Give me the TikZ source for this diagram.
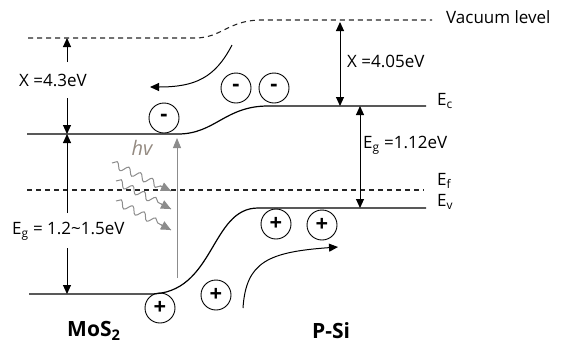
\documentclass[tikz,border=0pt]{standalone}
\usepackage{fontspec}
\setmainfont{Open Sans}
\usetikzlibrary{arrows.meta,decorations.pathmorphing,calc}
\definecolor{lightray}{gray}{0.55}
\tikzset{
  level/.style={line width=1.2pt},
  dashlevel/.style={line width=1.1pt, dash pattern=on 5pt off 4pt, black!85},
  arr/.style={line width=1pt, -{Triangle[length=9pt,width=8pt]}},
  darr/.style={line width=1pt, {Triangle[length=9pt,width=8pt]}-{Triangle[length=9pt,width=8pt]}},
  lbl/.style={font=\fontsize{17}{19}\selectfont, inner sep=0pt},
  big/.style={font=\fontsize{21}{24}\selectfont\bfseries, inner sep=0pt},
  carrier/.style={circle, draw, line width=0.9pt, minimum size=30pt, inner sep=0pt, font=\fontsize{22}{22}\selectfont\bfseries},
  photon/.style={lightray, line width=1pt, decorate,
    decoration={snake, amplitude=3.5pt, segment length=13pt, post length=10pt}},
  phtip/.style={lightray, -{Triangle[length=10pt,width=9pt]}, line width=1pt},
}
\begin{document}
\begin{tikzpicture}[x=1pt,y=-1pt]
\useasboundingbox (0,0) rectangle (561,346);

% ---- level coordinates ----
\coordinate (vacL0) at (28,38);
\coordinate (vacR1) at (432,20);
\coordinate (ecL0) at (27,134);
\coordinate (ecR1) at (426,106);
\coordinate (evL0) at (29,294);
\coordinate (evR1) at (426,208);
\coordinate (efL) at (27,190);
\coordinate (efR) at (424,190);

% vacuum level
\draw[dashlevel] (vacL0) -- (195,38) .. controls (222,38) and (228,20) .. (262,20) -- (vacR1);
% conduction band
\draw[level] (ecL0) -- (178,134) .. controls (215,134) and (225,106) .. (268,106) -- (ecR1);
% valence band
\draw[level] (evL0) -- (150,294) .. controls (215,294) and (210,208) .. (258,208) -- (evR1);
% Fermi level
\draw[dashlevel] (efL) -- (efR);

% ---- band labels ----
\node[lbl, anchor=west] (vaclbl) at (446,17) {Vacuum level};
\node[lbl, anchor=west] (eclbl) at (437,101) {E\textsubscript{c}};
\node[lbl, anchor=west] (eflbl) at (437,181) {E\textsubscript{f}};
\node[lbl, anchor=west] (evlbl) at (437,202) {E\textsubscript{v}};

% ---- MoS2 side ----
\coordinate (chiLtop) at (67,38);
\coordinate (chiLa) at (67,62);
\coordinate (chiLb) at (67,98);
\coordinate (chiLbot) at (67,134);
\node[lbl, anchor=west] (chiL) at (19,80) {X =4.3eV};
\draw[arr] (chiLa) -- (chiLtop);
\draw[arr] (chiLb) -- (chiLbot);

\coordinate (egLa) at (67,213);
\coordinate (egLb) at (67,248);
\coordinate (egLbot) at (67,294);
\node[lbl, anchor=west] (egL) at (12,231) {E\textsubscript{g} = 1.2\textasciitilde 1.5eV};
\draw[arr] (egLa) -- (chiLbot);
\draw[arr] (egLb) -- (egLbot);

% ---- Si side ----
\coordinate (chiRtop) at (340,22);
\coordinate (chiRbot) at (340,106);
\draw[darr] (chiRtop) -- (chiRbot);
\node[lbl, anchor=west] (chiR) at (347,61) {X =4.05eV};

\coordinate (egRtop) at (360,106);
\coordinate (egRbot) at (360,208);
\draw[darr] (egRtop) -- (egRbot);
\node[lbl, anchor=west] (egR) at (363,145) {E\textsubscript{g} =1.12eV};

% ---- illumination ----
\coordinate (exA) at (177,278);
\coordinate (exB) at (177,138);
\draw[lightray, line width=0.9pt, -{Triangle[length=10pt,width=8pt]}] (exA) -- (exB);
\node[font=\fontsize{20}{20}\selectfont\itshape, text=lightray!85!brown, inner sep=0pt] (hv) at (142,148) {hv};

\coordinate (ph1a) at (112,163);
\coordinate (ph1b) at (171,191);
\coordinate (ph2a) at (116,181);
\coordinate (ph2b) at (171,209);
\coordinate (ph3a) at (116,201);
\coordinate (ph3b) at (171,230);
\foreach \s/\e in {ph1a/ph1b, ph2a/ph2b, ph3a/ph3b}{
  \draw[photon] (\s) -- (\e);
  \draw[phtip] ($(\s)!0.82!(\e)$) -- (\e);
}

% ---- carriers ----
\node[carrier] (e1) at (164,118) {-};
\node[carrier] (e2) at (236,88) {-};
\node[carrier] (e3) at (274,88) {-};
\node[carrier] (h1) at (276,224) {+};
\node[carrier] (h2) at (322,225) {+};
\node[carrier] (h3) at (216,295) {+};
\node[carrier] (h4) at (160,308) {+};

% carrier flow
\coordinate (efA) at (232,45);
\coordinate (efB) at (150,87);
\draw[arr] (efA) .. controls (215,78) and (195,87) .. (efB);
\coordinate (hfA) at (243,308);
\coordinate (hfB) at (338,247);
\draw[arr] (hfA) .. controls (246,262) and (268,252) .. (hfB);

% ---- material names ----
\node[big, anchor=west] (mos) at (67,331) {MoS\textsubscript{2}};
\node[big, anchor=west] (psi) at (312,331) {P-Si};
\end{tikzpicture}
\end{document}
